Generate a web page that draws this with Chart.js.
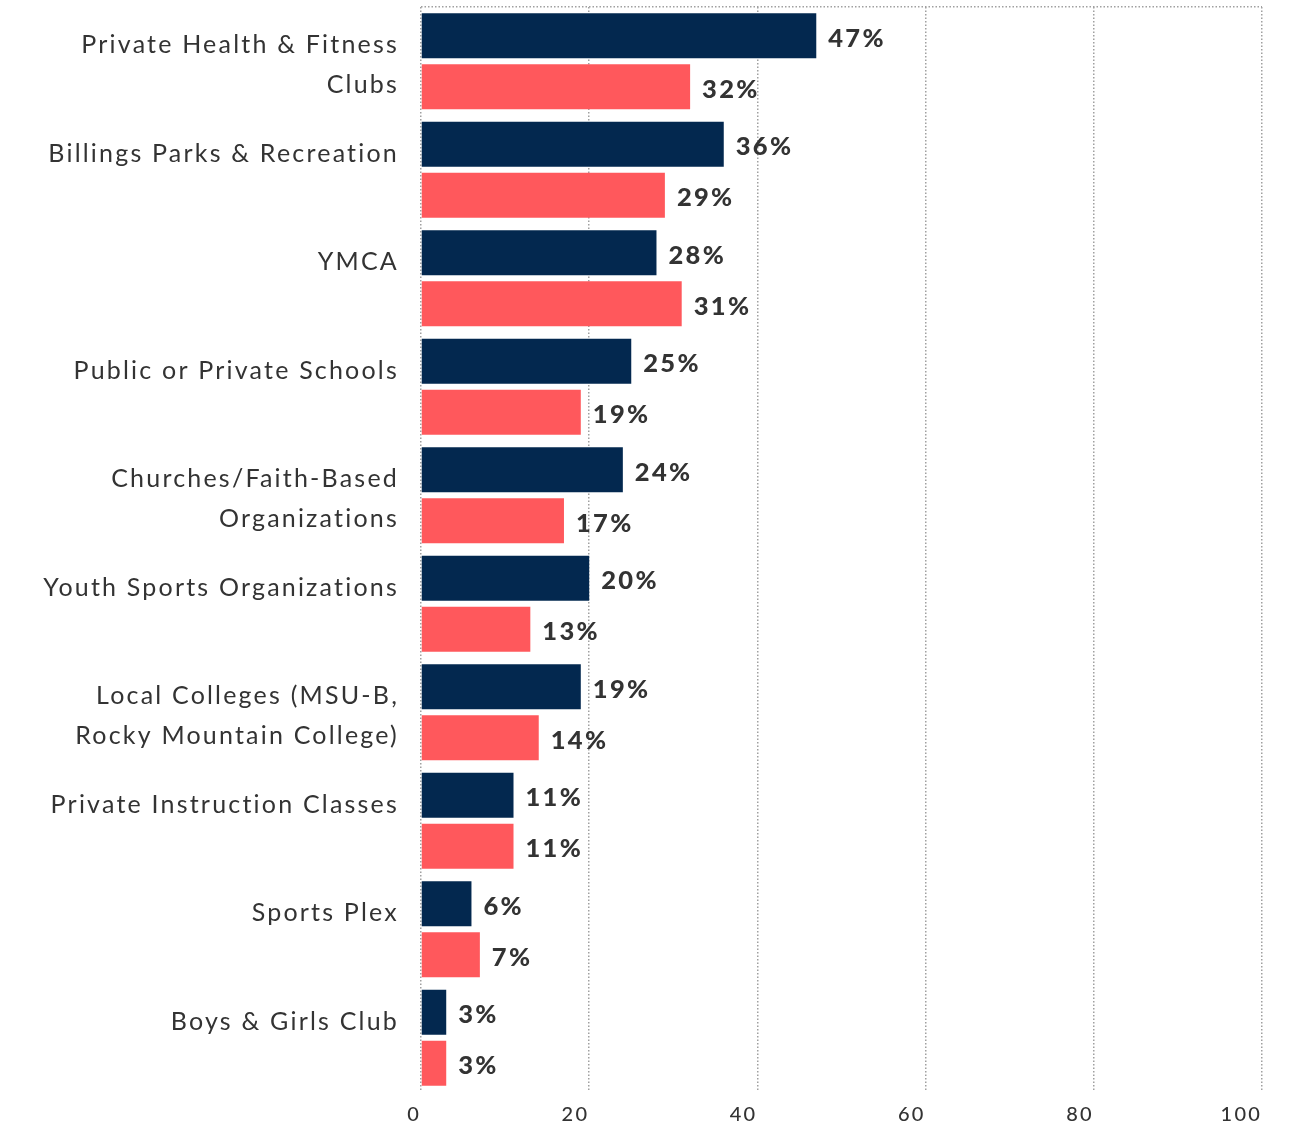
<!DOCTYPE html>
<html>
<head>
<meta charset="utf-8">
<script src="https://cdn.jsdelivr.net/npm/chart.js@4/dist/chart.umd.min.js"></script>
<style>
  html, body { margin: 0; padding: 0; background: #fff; }
  #wrap { width: 1298px; height: 1123px; }
</style>
</head>
<body>
<div id="wrap"><canvas id="chart"></canvas></div>
<script>
/* ---------- Data ---------- */
const categories = [
  ['Private Health & Fitness', 'Clubs'],
  'Billings Parks & Recreation',
  'YMCA',
  'Public or Private Schools',
  ['Churches/Faith-Based', 'Organizations'],
  'Youth Sports Organizations',
  ['Local Colleges (MSU-B,', 'Rocky Mountain College)'],
  'Private Instruction Classes',
  'Sports Plex',
  'Boys & Girls Club'
];
const seriesNavy  = [47, 36, 28, 25, 24, 20, 19, 11, 6, 3];
const seriesCoral = [32, 29, 31, 19, 17, 13, 14, 11, 7, 3];
const xTicks = [0, 20, 40, 60, 80, 100];

const NAVY  = '#03284f';
const CORAL = '#ff585c';
const TEXT  = '#333333';
const GRID  = '#a0a0a0';
const FONT  = "'Lato', 'Open Sans', sans-serif";

// single-line labels sit on the first line of a two-line slot
const labels = categories.map(c => Array.isArray(c) ? c : [c, '']);

/* ---------- Letter spacing for all canvas text ---------- */
const spacing = {
  id: 'spacing',
  beforeDraw(chart) { chart.ctx.letterSpacing = '2.2px'; }
};

/* ---------- Value labels at bar ends ---------- */
const valueLabels = {
  id: 'valueLabels',
  afterDatasetsDraw(chart) {
    const ctx = chart.ctx;
    ctx.save();
    ctx.letterSpacing = '2.3px';
    ctx.font = `900 25.5px ${FONT}`;
    ctx.fillStyle = TEXT;
    ctx.textAlign = 'left';
    ctx.textBaseline = 'middle';
    chart.data.datasets.forEach((ds, i) => {
      chart.getDatasetMeta(i).data.forEach((bar, j) => {
        ctx.fillText(ds.data[j] + '%', bar.x + 12, bar.y + 3);
      });
    });
    ctx.restore();
  }
};

new Chart(document.getElementById('chart'), {
  type: 'bar',
  data: {
    labels: labels,
    datasets: [
      { data: seriesNavy,  backgroundColor: NAVY,  categoryPercentage: 0.94, barPercentage: 0.88 },
      { data: seriesCoral, backgroundColor: CORAL, categoryPercentage: 0.94, barPercentage: 0.88 }
    ]
  },
  options: {
    indexAxis: 'y',
    responsive: true,
    maintainAspectRatio: false,
    animation: false,
    layout: { padding: { top: 7, right: 36, left: 0, bottom: 0 } },
    plugins: {
      legend: { display: false },
      tooltip: { enabled: false }
    },
    scales: {
      x: {
        min: 0,
        max: 100,
        afterBuildTicks: (axis) => { axis.ticks = xTicks.map(v => ({ value: v })); },
        afterFit: (s) => { s.height = 31; s.paddingLeft = 0; s.paddingRight = 0; },
        border: { display: false, dash: [1.5, 2] },
        grid: {
          color: GRID,
          lineWidth: 1.5,
          drawTicks: false
        },
        ticks: {
          align: 'end',
          padding: 11,
          color: TEXT,
          font: { family: FONT, size: 20, weight: '500' }
        }
      },
      y: {
        afterFit: (s) => { s.width = 421; s.paddingTop = 0; s.paddingBottom = 0; },
        border: { display: false, dash: [1.5, 2] },
        grid: {
          drawTicks: false,
          lineWidth: 1.5,
          color: (c) => c.index === 0 ? GRID : 'rgba(0,0,0,0)'
        },
        ticks: {
          padding: 22,
          labelOffset: 4,
          color: TEXT,
          font: { family: FONT, size: 25, lineHeight: 1.6 }
        }
      }
    }
  },
  plugins: [spacing, valueLabels]
});
</script>
</body>
</html>
